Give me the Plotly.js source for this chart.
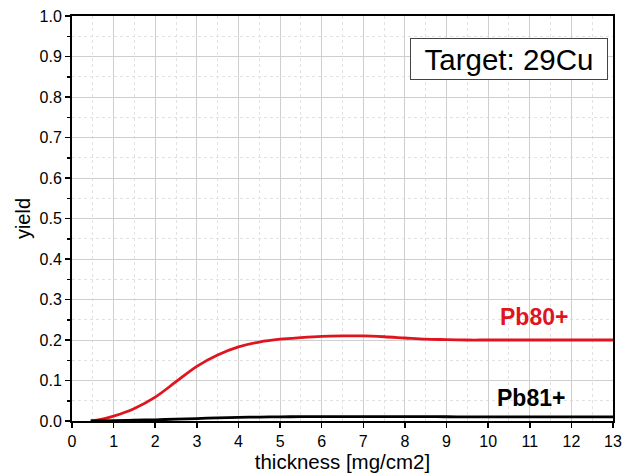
<!DOCTYPE html>
<html>
<head>
<meta charset="utf-8">
<script src="https://cdn.plot.ly/plotly-3.0.1.min.js"></script>
<style>html,body{margin:0;padding:0;background:#fff;}#chart{width:624px;height:473px;}</style>
</head>
<body>
<div id="chart"></div>
<script>
// Charge-state yield of Pb ions vs. target thickness (Cu target)
const thickness = [0.45, 0.7, 1.0, 1.5, 2.0, 2.5, 3.0, 3.5, 4.0, 4.5, 5.0, 5.5, 6.0, 6.5, 7.0, 7.5, 8.0, 8.5, 9.0, 9.5, 10.0, 11.0, 12.0, 13.0];
const yieldPb80 = [0.0, 0.004, 0.012, 0.031, 0.059, 0.097, 0.135, 0.163, 0.183, 0.195, 0.202, 0.206, 0.209, 0.210, 0.210, 0.208, 0.205, 0.202, 0.201, 0.200, 0.200, 0.200, 0.200, 0.200];
const yieldPb81 = [0.0, 0.0003, 0.001, 0.002, 0.003, 0.0045, 0.006, 0.0078, 0.009, 0.0098, 0.0103, 0.0107, 0.011, 0.011, 0.011, 0.011, 0.011, 0.0108, 0.0105, 0.0103, 0.0102, 0.0101, 0.010, 0.010];

const font = {family: 'Liberation Sans, Arial, sans-serif', color: '#000'};

const traces = [
  {x: thickness, y: yieldPb80, mode: 'lines', line: {color: '#e0141e', width: 2.8, shape: 'spline'}, name: 'Pb80+'},
  {x: thickness, y: yieldPb81, mode: 'lines', line: {color: '#000', width: 2.8, shape: 'spline'}, name: 'Pb81+'}
];

const layout = {
  width: 624, height: 473,
  margin: {l: 72, r: 11, t: 16, b: 52},
  paper_bgcolor: '#fff', plot_bgcolor: '#fff',
  showlegend: false,
  font: Object.assign({size: 16}, font),
  xaxis: {
    range: [0, 13], dtick: 1, tick0: 0,
    showline: true, linecolor: '#000', linewidth: 2, mirror: true,
    ticks: 'outside', ticklen: 5, tickwidth: 1.5, tickcolor: '#000',
    showgrid: true, gridcolor: '#cfcfcf', gridwidth: 1,
    zeroline: false,
    minor: {dtick: 0.5, showgrid: true, gridcolor: '#e2e2e2', griddash: 'dot', ticks: ''},
    tickfont: Object.assign({size: 16}, font),
    title: {text: 'thickness [mg/cm2]', font: Object.assign({size: 20.5}, font), standoff: 0}
  },
  yaxis: {
    range: [0, 1.0], dtick: 0.1, tick0: 0, tickformat: '.1f',
    showline: true, linecolor: '#000', linewidth: 2, mirror: true,
    ticks: 'outside', ticklen: 5, tickwidth: 1.5, tickcolor: '#000',
    showgrid: true, gridcolor: '#cfcfcf', gridwidth: 1,
    zeroline: false,
    minor: {dtick: 0.05, showgrid: true, gridcolor: '#e2e2e2', griddash: 'dot', ticks: 'outside', ticklen: 3, tickcolor: '#000'},
    tickfont: Object.assign({size: 16}, font),
    title: {text: 'yield', font: Object.assign({size: 20}, font), standoff: 4}
  },
  annotations: [
    {x: 11.1, y: 0.257, xref: 'x', yref: 'y', text: '<b>Pb80+</b>', showarrow: false,
     font: Object.assign({}, font, {size: 23, color: '#e0141e'})},
    {x: 11.03, y: 0.057, xref: 'x', yref: 'y', text: '<b>Pb81+</b>', showarrow: false,
     font: Object.assign({size: 23}, font)},
    {x: 0.808, y: 0.894, xref: 'paper', yref: 'paper', xanchor: 'center', yanchor: 'middle',
     text: 'Target: 29Cu', showarrow: false, bgcolor: '#fff',
     width: 192, height: 36, borderpad: 2,
     bordercolor: '#444', borderwidth: 1,
     font: Object.assign({size: 29.5}, font)}
  ]
};

Plotly.newPlot('chart', traces, layout, {displayModeBar: false, staticPlot: true});
</script>
</body>
</html>
